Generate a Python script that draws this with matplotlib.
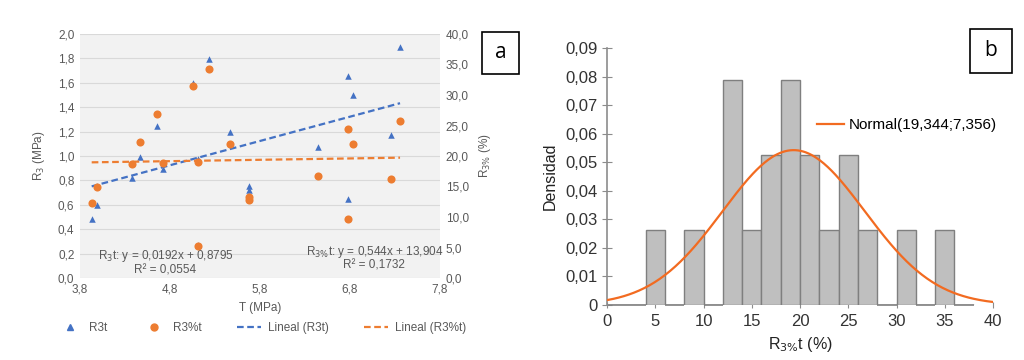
import numpy as np
import matplotlib
matplotlib.use("Agg")
import matplotlib.pyplot as plt
from matplotlib.lines import Line2D
from matplotlib.patches import Rectangle
from matplotlib.ticker import FuncFormatter, MultipleLocator, FixedLocator

plt.rcParams["font.family"] = ["Liberation Sans", "DejaVu Sans"]

# --- datos (19 probetas) ---
T_MPA = [3.93, 3.985, 4.374, 4.467, 4.65, 4.726, 5.059, 5.108, 5.108, 5.233,
         5.472, 5.678, 5.678, 6.448, 6.774, 6.774, 6.833, 7.256, 7.356]
R3T = [0.484, 0.598, 0.82, 0.994, 1.248, 0.891, 1.60, 0.975, 0.27, 1.793,
       1.197, 0.754, 0.721, 1.076, 1.658, 0.645, 1.498, 1.175, 1.891]
R3PCT = [12.34, 14.97, 18.69, 22.3, 26.9, 18.9, 31.5, 19.07, 5.3, 34.26,
         21.9, 13.3, 12.8, 16.77, 24.5, 9.6, 21.9, 16.2, 25.8]
T_TICKS = [3.8, 4.8, 5.8, 6.8, 7.8]

EQ_R3 = ["R$_3$t: y = 0,0192x + 0,8795", "R² = 0,0554"]
EQ_R3PCT = ["R$_{3\\%}$t: y = 0,544x + 13,904", "R² = 0,1732"]

# histograma (panel b)
BIN_EDGES = np.arange(0, 40, 2)   # 0..38
MU, SIGMA = 19.344, 7.356

AZUL = "#4472c4"
NARANJA = "#ed7d31"
GRIS_TXT = "#595959"


def coma(fmt):
    return FuncFormatter(lambda v, p: format(v, fmt).replace(".", ","))


fig = plt.figure(figsize=(10.24, 3.6), dpi=100)

# ---------------- panel a ----------------
ax = fig.add_axes([80 / 1024, 1 - 278 / 360, 360 / 1024, 244 / 360])
ax2 = ax.twinx()
ax.set_facecolor("#f2f2f2")
ax.set_xlim(3.8, 7.8)
ax.set_ylim(0, 2.0)
ax2.set_ylim(0, 40)
ax.xaxis.set_major_locator(FixedLocator(T_TICKS))
ax.yaxis.set_major_locator(MultipleLocator(0.2))
ax2.yaxis.set_major_locator(MultipleLocator(5))
ax.xaxis.set_major_formatter(coma(".1f"))
ax.yaxis.set_major_formatter(coma(".1f"))
ax2.yaxis.set_major_formatter(coma(".1f"))
ax.grid(axis="y", color="#d9d9d9", linewidth=0.8)
ax.set_axisbelow(True)
for a in (ax, ax2):
    for s in a.spines.values():
        s.set_visible(False)
    a.tick_params(length=0, labelsize=8.5, labelcolor=GRIS_TXT, pad=4)

x = np.array(T_MPA)
ax.scatter(T_MPA, R3T, marker="^", s=22, color=AZUL, zorder=3, linewidths=0)
ax2.scatter(T_MPA, R3PCT, marker="o", s=34, color=NARANJA, zorder=3, linewidths=0)

xs = np.array([x.min(), x.max()])
k1 = np.polyfit(x, R3T, 1)
k2 = np.polyfit(x, R3PCT, 1)
ax.plot(xs, np.polyval(k1, xs), "--", color=AZUL, lw=1.6, dashes=(3, 1.6), zorder=2)
ax2.plot(xs, np.polyval(k2, xs), "--", color=NARANJA, lw=1.6, dashes=(3, 1.6), zorder=2)

ax.text(4.75, 0.015, EQ_R3[0] + "\n" + EQ_R3[1], ha="center", va="bottom",
        fontsize=8.5, color=GRIS_TXT, linespacing=1.0)
ax.text(7.07, 0.05, EQ_R3PCT[0] + "\n" + EQ_R3PCT[1], ha="center", va="bottom",
        fontsize=8.5, color=GRIS_TXT, linespacing=1.0)

ax.set_xlabel("T (MPa)", fontsize=8.5, color=GRIS_TXT, labelpad=5)
ax.set_ylabel("R$_3$ (MPa)", fontsize=8.5, color=GRIS_TXT, labelpad=8)
ax2.set_ylabel("R$_{3\\%}$ (%)", fontsize=8.5, color=GRIS_TXT, labelpad=6)

handles = [
    Line2D([], [], marker="^", ls="", color=AZUL, markersize=5),
    Line2D([], [], marker="o", ls="", color=NARANJA, markersize=5),
    Line2D([], [], ls="--", color=AZUL, lw=1.6, dashes=(3, 1.6)),
    Line2D([], [], ls="--", color=NARANJA, lw=1.6, dashes=(3, 1.6)),
]
leg = fig.legend(handles, ["R3t", "R3%t", "Lineal (R3t)", "Lineal (R3%t)"],
                 loc="center", bbox_to_anchor=(262 / 1024, 1 - 328 / 360), ncol=4,
                 frameon=False, fontsize=8.5, columnspacing=3.0, handlelength=2.0,
                 handletextpad=0.6)
for t in leg.get_texts():
    t.set_color(GRIS_TXT)

# ---------------- panel b ----------------
bx = fig.add_axes([607 / 1024, 1 - 305 / 360, 386 / 1024, 257 / 360])
alturas, bordes = np.histogram(R3PCT, bins=BIN_EDGES, density=True)
bx.bar(bordes[:-1], alturas, width=np.diff(bordes), align="edge",
       color="#bfbfbf", edgecolor="#7f7f7f", linewidth=1.0, zorder=2)
# las clases vacias se ven como un trazo sobre el eje
vacias = alturas == 0
bx.hlines(np.zeros(vacias.sum()), bordes[:-1][vacias], bordes[1:][vacias],
          color="#7f7f7f", linewidth=1.2, zorder=2, clip_on=False)
xc = np.linspace(0, 40, 300)
bx.plot(xc, np.exp(-0.5 * ((xc - MU) / SIGMA) ** 2) / (SIGMA * np.sqrt(2 * np.pi)),
        color="#f26b21", lw=1.6, zorder=3, label="Normal(19,344;7,356)")
bx.set_xlim(0, 40)
bx.set_ylim(0, 0.09)
bx.xaxis.set_major_locator(MultipleLocator(5))
bx.yaxis.set_major_locator(MultipleLocator(0.01))
bx.yaxis.set_major_formatter(FuncFormatter(
    lambda v, p: "0" if abs(v) < 1e-9 else f"{v:.2f}".replace(".", ",")))
for side in ("top", "right", "bottom"):
    bx.spines[side].set_visible(False)
bx.spines["left"].set_color("#8c8c8c")
bx.spines["left"].set_linewidth(1.2)
bx.tick_params(axis="y", direction="inout", length=7, color="#8c8c8c",
               labelsize=12, labelcolor="#333333", pad=3)
bx.tick_params(axis="x", direction="inout", length=5, color="#8c8c8c",
               labelsize=12, labelcolor="#333333", pad=4)
bx.set_ylabel("Densidad", fontsize=11.5, color="#222222", labelpad=6)
bx.set_xlabel("R$_{3\\%}$t (%)", fontsize=11.5, color="#222222", labelpad=4)
bx.legend(loc="center left", bbox_to_anchor=(803 / 1024, 1 - 125 / 360),
          bbox_transform=fig.transFigure, fontsize=11, frameon=False,
          handlelength=1.8, handletextpad=0.3)

# recuadros "a" y "b"
for (x0, y0, w, h, lab) in [(482, 32, 37, 42, "a"), (970, 29, 42, 44, "b")]:
    fig.patches.append(Rectangle((x0 / 1024, 1 - (y0 + h) / 360), w / 1024, h / 360,
                                 transform=fig.transFigure, fill=False,
                                 edgecolor="black", linewidth=1.2))
    fig.text((x0 + w / 2) / 1024, 1 - (y0 + h / 2) / 360, lab, ha="center",
             va="center", fontsize=15, family=["Open Sans", "DejaVu Sans"])

fig.savefig("out.png", dpi=100)
